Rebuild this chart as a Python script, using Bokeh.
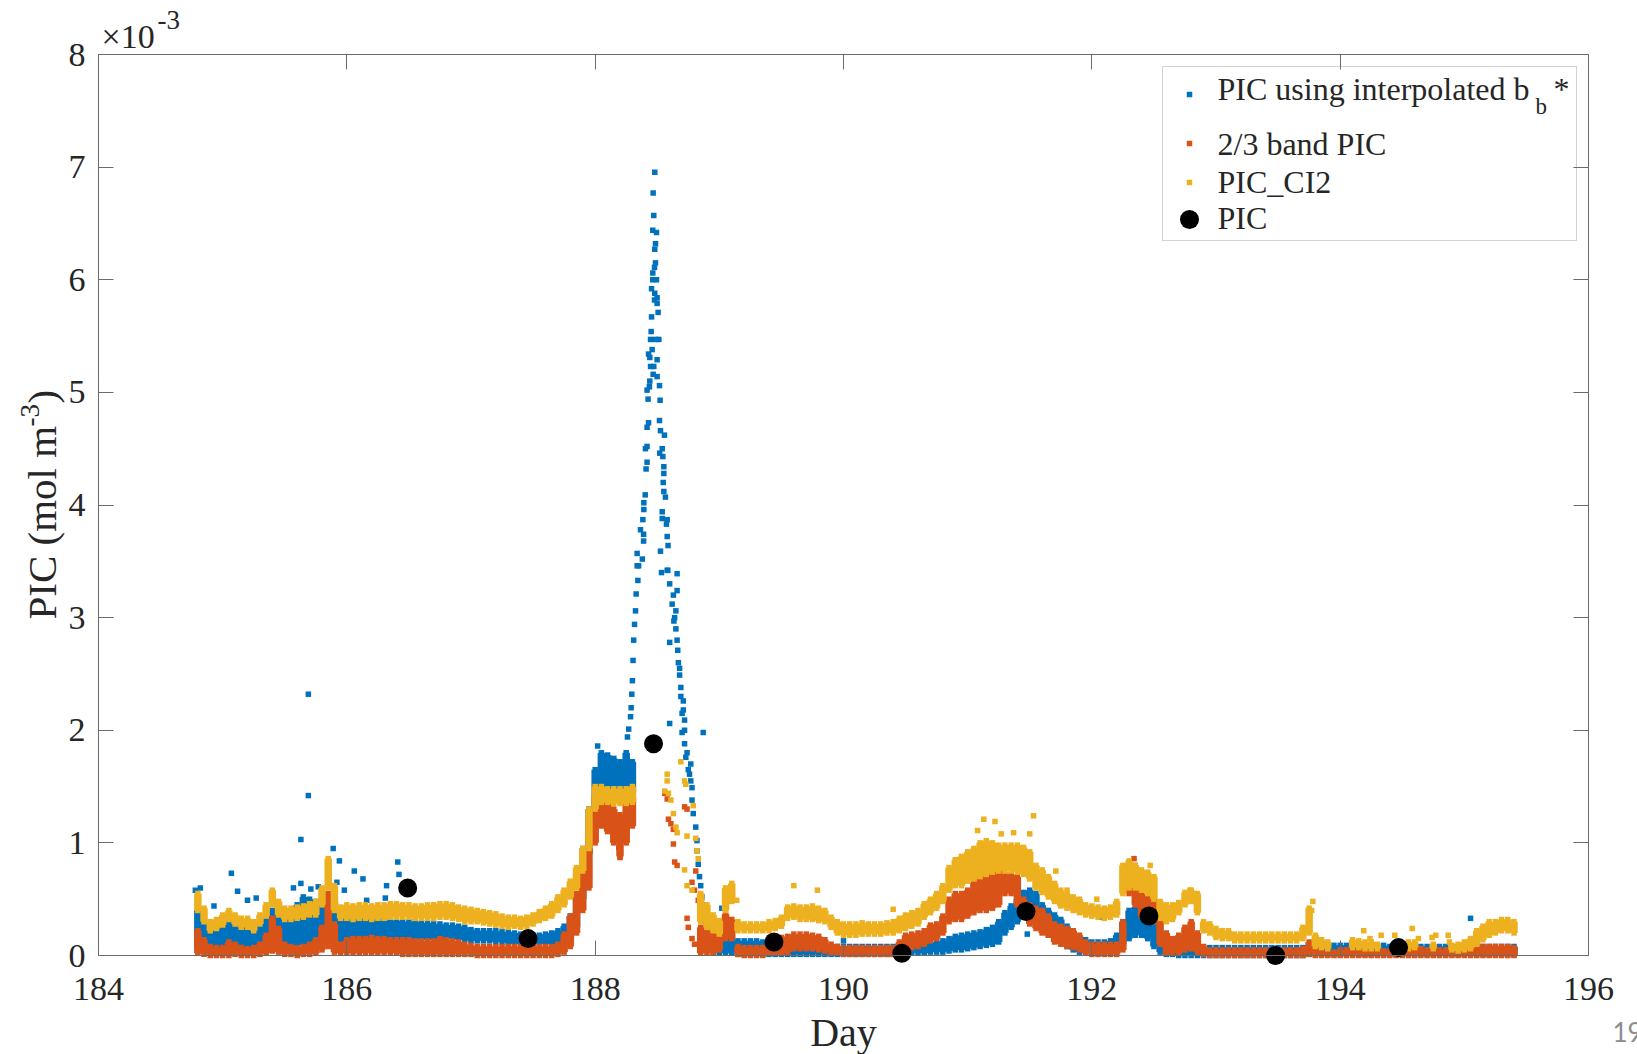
import math

from bokeh.plotting import figure
from bokeh.models import (ColumnDataSource, Range1d, LinearAxis, FixedTicker,
                          Label, BoxAnnotation)
from bokeh.embed import file_html
from bokeh.resources import INLINE

N = None  # no sample in that window

# ---------------------------------------------------------------------------
# Data.  Values are in units of 1e-3 mol m^-3 (axis multiplier x10^-3).
# Continuous records are summarised on a 0.05-day grid as the lower / upper
# edge of the point cloud in each window; isolated points are listed apart.
# ---------------------------------------------------------------------------
day = [
    184.80, 184.85, 184.90, 184.95, 185.00, 185.05, 185.10, 185.15, 185.20, 185.25,
    185.30, 185.35, 185.40, 185.45, 185.50, 185.55, 185.60, 185.65, 185.70, 185.75,
    185.80, 185.85, 185.90, 185.95, 186.00, 186.05, 186.10, 186.15, 186.20, 186.25,
    186.30, 186.35, 186.40, 186.45, 186.50, 186.55, 186.60, 186.65, 186.70, 186.75,
    186.80, 186.85, 186.90, 186.95, 187.00, 187.05, 187.10, 187.15, 187.20, 187.25,
    187.30, 187.35, 187.40, 187.45, 187.50, 187.55, 187.60, 187.65, 187.70, 187.75,
    187.80, 187.85, 187.90, 187.95, 188.00, 188.05, 188.10, 188.15, 188.20, 188.25,
    188.30, 188.35, 188.40, 188.45, 188.50, 188.55, 188.60, 188.65, 188.70, 188.75,
    188.80, 188.85, 188.90, 188.95, 189.00, 189.05, 189.10, 189.15, 189.20, 189.25,
    189.30, 189.35, 189.40, 189.45, 189.50, 189.55, 189.60, 189.65, 189.70, 189.75,
    189.80, 189.85, 189.90, 189.95, 190.00, 190.05, 190.10, 190.15, 190.20, 190.25,
    190.30, 190.35, 190.40, 190.45, 190.50, 190.55, 190.60, 190.65, 190.70, 190.75,
    190.80, 190.85, 190.90, 190.95, 191.00, 191.05, 191.10, 191.15, 191.20, 191.25,
    191.30, 191.35, 191.40, 191.45, 191.50, 191.55, 191.60, 191.65, 191.70, 191.75,
    191.80, 191.85, 191.90, 191.95, 192.00, 192.05, 192.10, 192.15, 192.20, 192.25,
    192.30, 192.35, 192.40, 192.45, 192.50, 192.55, 192.60, 192.65, 192.70, 192.75,
    192.80, 192.85, 192.90, 192.95, 193.00, 193.05, 193.10, 193.15, 193.20, 193.25,
    193.30, 193.35, 193.40, 193.45, 193.50, 193.55, 193.60, 193.65, 193.70, 193.75,
    193.80, 193.85, 193.90, 193.95, 194.00, 194.05, 194.10, 194.15, 194.20, 194.25,
    194.30, 194.35, 194.40, 194.45, 194.50, 194.55, 194.60, 194.65, 194.70, 194.75,
    194.80, 194.85, 194.90, 194.95, 195.00, 195.05, 195.10, 195.15, 195.20, 195.25,
    195.30, 195.35, 195.40,
]

# PIC using interpolated bb*
interp_lo = [
    0.07, 0.05, 0.04, 0.04, 0.05, 0.05, 0.05, 0.06, 0.06, 0.06,
    0.07, 0.07, 0.08, 0.08, 0.08, 0.08, 0.09, 0.10, 0.10, 0.10,
    0.12, 0.12, 0.12, 0.12, 0.13, 0.13, 0.14, 0.14, 0.14, 0.14,
    0.14, 0.14, 0.14, 0.14, 0.14, 0.14, 0.14, 0.14, 0.14, 0.15,
    0.15, 0.15, 0.14, 0.14, 0.13, 0.13, 0.13, 0.13, 0.12, 0.12,
    0.11, 0.10, 0.10, 0.10, 0.10, 0.10, 0.10, 0.10, 0.10, 0.12,
    0.15, 0.25, 0.50, 0.90, 1.30, 1.45, 1.45, 1.45, 1.40, 1.45,
    1.45, N, N, N, N, N, N, N, N, N,
    N, N, 0.06, 0.03, 0.02, 0.02, 0.02, 0.01, 0.01, 0.01,
    0.01, 0.01, 0.01, 0.01, 0.01, 0.01, 0.01, 0.01, 0.01, 0.01,
    0.01, 0.01, 0.01, 0.01, 0.01, 0.01, 0.01, 0.01, 0.01, 0.01,
    0.01, 0.01, 0.01, 0.02, 0.02, 0.02, 0.02, 0.02, 0.03, 0.03,
    0.03, 0.04, 0.05, 0.05, 0.06, 0.07, 0.08, 0.09, 0.10, 0.12,
    0.20, 0.25, 0.30, 0.35, 0.35, 0.30, 0.22, 0.18, 0.15, 0.12,
    0.08, 0.05, 0.03, 0.02, 0.02, 0.02, 0.02, 0.02, 0.04, 0.10,
    0.15, 0.18, 0.18, 0.15, 0.08, 0.03, 0.01, 0.01, 0.00, 0.00,
    0.00, 0.00, 0.00, 0.00, 0.00, 0.00, 0.00, 0.00, 0.00, 0.00,
    0.00, 0.00, 0.00, 0.00, 0.00, 0.00, 0.00, 0.00, 0.00, 0.01,
    0.01, 0.01, 0.01, 0.01, 0.01, 0.01, 0.01, 0.01, 0.01, 0.01,
    0.01, 0.01, 0.01, 0.01, 0.01, 0.01, 0.01, 0.01, 0.01, 0.01,
    0.01, 0.01, 0.01, 0.01, 0.01, 0.01, 0.01, 0.01, 0.01, 0.01,
    0.01, 0.01, 0.01,
]
interp_hi = [
    0.40, 0.28, 0.25, 0.26, 0.27, 0.30, 0.30, 0.28, 0.27, 0.26,
    0.28, 0.32, 0.40, 0.38, 0.33, 0.38, 0.45, 0.52, 0.50, 0.48,
    0.50, 0.55, 0.48, 0.42, 0.38, 0.35, 0.33, 0.32, 0.32, 0.32,
    0.31, 0.31, 0.31, 0.30, 0.30, 0.30, 0.29, 0.29, 0.28, 0.28,
    0.27, 0.27, 0.26, 0.25, 0.23, 0.22, 0.22, 0.22, 0.22, 0.21,
    0.21, 0.20, 0.19, 0.18, 0.18, 0.18, 0.19, 0.20, 0.22, 0.26,
    0.35, 0.50, 0.95, 1.30, 1.65, 1.80, 1.78, 1.75, 1.72, 1.80,
    1.72, N, N, N, N, N, N, N, N, N,
    N, N, 0.32, 0.25, 0.22, 0.18, 0.15, 0.13, 0.13, 0.13,
    0.13, 0.12, 0.08, 0.08, 0.08, 0.08, 0.08, 0.08, 0.08, 0.08,
    0.08, 0.08, 0.08, 0.08, 0.08, 0.08, 0.08, 0.08, 0.08, 0.08,
    0.08, 0.08, 0.08, 0.08, 0.08, 0.09, 0.10, 0.10, 0.11, 0.12,
    0.13, 0.15, 0.17, 0.18, 0.19, 0.20, 0.21, 0.23, 0.25, 0.30,
    0.38, 0.44, 0.50, 0.56, 0.58, 0.55, 0.45, 0.40, 0.36, 0.32,
    0.26, 0.20, 0.16, 0.14, 0.12, 0.12, 0.12, 0.13, 0.18, 0.30,
    0.40, 0.43, 0.42, 0.38, 0.30, 0.20, 0.14, 0.12, 0.12, 0.12,
    0.12, 0.10, 0.07, 0.07, 0.07, 0.07, 0.07, 0.07, 0.07, 0.07,
    0.07, 0.07, 0.07, 0.07, 0.07, 0.07, 0.07, 0.07, 0.07, 0.09,
    0.09, 0.09, 0.09, 0.09, 0.09, 0.09, 0.09, 0.09, 0.09, 0.09,
    0.09, 0.09, 0.08, 0.08, 0.08, 0.08, 0.08, 0.08, 0.08, 0.08,
    0.08, 0.08, 0.08, 0.08, 0.08, 0.08, 0.08, 0.08, 0.08, 0.08,
    0.08, 0.08, 0.08,
]
interp_pt_day = [
    184.78, 184.82, 184.93, 185.07, 185.12, 185.20, 185.27, 185.57, 185.63, 185.63,
    185.69, 185.69, 185.71, 185.77, 185.89, 185.92, 185.94, 185.98, 186.06, 186.13,
    186.16, 186.31, 186.32, 186.41, 186.42,
    188.02, 188.26, 188.27, 188.285, 188.29, 188.295, 188.30, 188.305, 188.31, 188.317,
    188.325, 188.33, 188.344, 188.35,
    188.338, 188.38, 188.338, 188.39, 188.39, 188.365, 188.384, 188.392, 188.392, 188.403,
    188.41, 188.418, 188.405, 188.418, 188.418, 188.43, 188.426, 188.418, 188.437, 188.44,
    188.446, 188.472, 188.44, 188.43, 188.459, 188.446, 188.486, 188.513, 188.451, 188.454,
    188.507, 188.499, 188.478, 188.499, 188.48, 188.454, 188.464, 188.494, 188.464, 188.478,
    188.486, 188.48, 188.486, 188.464, 188.494, 188.472, 188.467, 188.48,
    188.467, 188.499, 188.499, 188.518, 188.523, 188.518, 188.526, 188.558, 188.54, 188.52,
    188.545, 188.553, 188.553, 188.548, 188.553, 188.566, 188.54, 188.54, 188.58, 188.574,
    188.58, 188.587, 188.526, 188.58,
    188.534, 188.585, 188.66, 188.60, 188.66, 188.62, 188.65, 188.634, 188.65, 188.60,
    188.665, 188.67, 188.68, 188.69, 188.71, 188.71, 188.72, 188.70, 188.60, 188.87,
    188.72, 188.73, 188.77, 188.76, 188.78, 188.78, 188.79, 188.81, 188.82, 188.82,
    188.83, 188.84, 188.85, 188.86, 188.87, 188.88, 188.89,
    188.63, 188.64, 188.66, 188.68, 188.69, 188.70, 188.72, 188.74, 188.75, 188.77,
    189.02, 190.00, 191.48, 192.07, 195.05,
]
interp_pt_val = [
    0.58, 0.60, 0.44, 0.73, 0.57, 0.49, 0.51, 0.60, 1.03, 0.64,
    2.32, 1.42, 0.59, 0.61, 0.95, 0.65, 0.84, 0.58, 0.75, 0.68,
    0.49, 0.51, 0.62, 0.83, 0.72,
    1.86, 1.94, 2.01, 2.12, 2.20, 2.32, 2.44, 2.62, 2.80, 2.94,
    3.06, 3.21, 3.33, 3.46,
    3.46, 3.52, 3.57, 3.68, 3.74, 3.78, 3.87, 3.96, 4.02, 4.09,
    4.32, 4.38, 4.50, 4.52, 4.69, 4.73, 4.94, 5.02, 5.05, 5.10,
    5.23, 5.23, 5.31, 5.34, 5.38, 5.47, 5.47, 5.47, 5.54, 5.67,
    5.71, 5.79, 5.82, 5.84, 5.88, 5.92, 6.00, 6.00, 6.06, 6.11,
    6.15, 6.27, 6.32, 6.44, 6.42, 6.57, 6.77, 6.955,
    5.16, 5.14, 5.29, 5.06, 4.93, 4.75, 4.66, 4.62, 4.50, 4.46,
    4.43, 4.34, 4.28, 4.20, 4.12, 4.07, 3.94, 3.88, 3.87, 3.83,
    3.72, 3.64, 3.59, 3.42,
    3.40, 3.42, 3.39, 3.30, 3.24, 3.12, 3.06, 2.97, 2.90, 2.78,
    2.71, 2.60, 2.49, 2.38, 2.26, 2.18, 2.09, 1.98, 2.06, 1.98,
    1.88, 1.76, 1.70, 1.61, 1.49, 1.38, 1.26, 1.14, 1.02, 0.93,
    0.81, 0.70, 0.62, 0.52, 0.45, 0.36, 0.30,
    3.20, 3.00, 2.80, 2.55, 2.30, 2.15, 2.00, 1.80, 1.65, 1.55,
    0.42, 0.13, 0.19, 0.34, 0.33,
]

# 2/3 band PIC
band_lo = [
    0.02, 0.01, 0.00, 0.00, 0.00, 0.00, 0.01, 0.00, 0.00, 0.00,
    0.01, 0.02, 0.04, 0.03, 0.01, 0.01, 0.00, 0.01, 0.01, 0.02,
    0.05, 0.08, 0.03, 0.02, 0.02, 0.02, 0.02, 0.02, 0.02, 0.02,
    0.02, 0.02, 0.02, 0.01, 0.01, 0.01, 0.01, 0.01, 0.01, 0.01,
    0.01, 0.01, 0.01, 0.01, 0.01, 0.00, 0.00, 0.00, 0.00, 0.00,
    0.00, 0.00, 0.00, 0.00, 0.00, 0.00, 0.00, 0.00, 0.01, 0.03,
    0.08, 0.20, 0.40, 0.60, 1.00, 1.15, 1.10, 1.00, 0.88, 1.00,
    1.15, N, N, N, N, N, N, N, N, N,
    N, 0.02, 0.02, 0.02, 0.05, 0.15, 0.15, 0.01, 0.00, 0.00,
    0.00, 0.00, 0.02, 0.02, 0.02, 0.03, 0.06, 0.06, 0.06, 0.06,
    0.05, 0.04, 0.03, 0.02, 0.01, 0.01, 0.01, 0.01, 0.01, 0.01,
    0.01, 0.01, 0.01, 0.03, 0.06, 0.07, 0.08, 0.10, 0.13, 0.15,
    0.20, 0.30, 0.32, 0.32, 0.35, 0.38, 0.40, 0.40, 0.42, 0.45,
    0.55, 0.55, 0.45, 0.35, 0.28, 0.24, 0.20, 0.18, 0.12, 0.10,
    0.08, 0.07, 0.05, 0.02, 0.01, 0.01, 0.01, 0.01, 0.01, 0.05,
    0.55, 0.45, 0.35, 0.32, 0.30, 0.10, 0.02, 0.02, 0.02, 0.05,
    0.06, 0.03, 0.01, 0.00, 0.00, 0.00, 0.00, 0.00, 0.00, 0.00,
    0.00, 0.00, 0.00, 0.00, 0.00, 0.00, 0.00, 0.00, 0.00, 0.01,
    0.00, 0.00, 0.00, 0.00, 0.00, 0.00, 0.00, 0.00, 0.00, 0.00,
    0.00, 0.00, 0.00, 0.00, 0.00, 0.00, 0.00, 0.00, 0.00, 0.00,
    0.00, 0.00, 0.00, 0.00, 0.00, 0.00, 0.00, 0.00, 0.00, 0.00,
    0.00, 0.00, 0.00,
]
band_hi = [
    0.22, 0.14, 0.08, 0.07, 0.07, 0.12, 0.10, 0.07, 0.06, 0.07,
    0.10, 0.18, 0.33, 0.24, 0.10, 0.08, 0.07, 0.08, 0.10, 0.14,
    0.25, 0.55, 0.28, 0.10, 0.14, 0.15, 0.15, 0.15, 0.16, 0.15,
    0.15, 0.14, 0.14, 0.14, 0.14, 0.13, 0.13, 0.13, 0.13, 0.15,
    0.14, 0.13, 0.12, 0.10, 0.09, 0.08, 0.08, 0.08, 0.08, 0.08,
    0.08, 0.08, 0.08, 0.08, 0.08, 0.08, 0.08, 0.08, 0.10, 0.19,
    0.35, 0.55, 0.75, 1.20, 1.42, 1.42, 1.35, 1.30, 1.25, 1.35,
    1.40, N, N, N, N, N, N, N, N, N,
    N, 0.25, 0.22, 0.20, 0.30, 0.37, 0.32, 0.08, 0.07, 0.07,
    0.07, 0.07, 0.14, 0.15, 0.16, 0.17, 0.19, 0.19, 0.19, 0.18,
    0.17, 0.14, 0.10, 0.08, 0.07, 0.07, 0.07, 0.07, 0.07, 0.07,
    0.07, 0.07, 0.07, 0.12, 0.18, 0.19, 0.20, 0.22, 0.27, 0.28,
    0.35, 0.50, 0.55, 0.55, 0.58, 0.65, 0.72, 0.75, 0.75, 0.75,
    0.72, 0.72, 0.70, 0.50, 0.45, 0.42, 0.40, 0.35, 0.28, 0.26,
    0.24, 0.22, 0.18, 0.12, 0.10, 0.10, 0.10, 0.10, 0.10, 0.30,
    0.82, 0.80, 0.55, 0.52, 0.50, 0.40, 0.20, 0.15, 0.18, 0.25,
    0.30, 0.20, 0.08, 0.05, 0.05, 0.05, 0.05, 0.05, 0.05, 0.05,
    0.05, 0.05, 0.05, 0.05, 0.05, 0.05, 0.05, 0.05, 0.06, 0.12,
    0.06, 0.04, 0.03, 0.03, 0.05, 0.05, 0.05, 0.05, 0.04, 0.04,
    0.04, 0.04, 0.04, 0.04, 0.05, 0.07, 0.09, 0.06, 0.05, 0.05,
    0.05, 0.05, 0.05, 0.06, 0.08, 0.08, 0.08, 0.08, 0.08, 0.08,
    0.08, 0.08, 0.07,
]
band_pt_day = [
    188.19, 188.20, 188.56, 188.58, 188.59, 188.61, 188.63, 188.63, 188.64, 188.66,
    188.72, 188.74, 188.74, 188.75, 188.78, 188.80, 188.81, 188.83, 188.78, 188.80,
    192.34,
]
band_pt_val = [
    0.96, 0.87, 1.44, 1.39, 1.21, 1.17, 1.12, 0.99, 0.83, 0.80,
    1.32, 1.30, 0.33, 0.25, 0.65, 0.58, 0.75, 0.49, 0.15, 0.10,
    0.86,
]

# PIC_CI2
ci2_lo = [
    0.40, 0.30, 0.22, 0.24, 0.27, 0.32, 0.28, 0.25, 0.25, 0.22,
    0.28, 0.35, 0.45, 0.36, 0.32, 0.32, 0.33, 0.34, 0.36, 0.36,
    0.45, 0.60, 0.40, 0.33, 0.33, 0.32, 0.33, 0.33, 0.32, 0.33,
    0.33, 0.34, 0.34, 0.34, 0.34, 0.33, 0.33, 0.33, 0.33, 0.34,
    0.34, 0.33, 0.32, 0.30, 0.30, 0.30, 0.29, 0.28, 0.27, 0.26,
    0.25, 0.26, 0.25, 0.26, 0.28, 0.31, 0.33, 0.35, 0.40, 0.45,
    0.52, 0.60, 0.75, 0.95, 1.30, 1.36, 1.36, 1.35, 1.35, 1.35,
    1.36, N, N, N, N, N, N, N, N, N,
    N, 0.30, 0.25, 0.22, 0.19, 0.40, 0.48, 0.22, 0.22, 0.22,
    0.22, 0.22, 0.22, 0.24, 0.26, 0.33, 0.34, 0.32, 0.32, 0.32,
    0.31, 0.30, 0.25, 0.20, 0.18, 0.18, 0.18, 0.19, 0.19, 0.19,
    0.19, 0.20, 0.20, 0.22, 0.24, 0.26, 0.28, 0.34, 0.38, 0.42,
    0.48, 0.58, 0.62, 0.62, 0.66, 0.68, 0.70, 0.72, 0.74, 0.75,
    0.75, 0.75, 0.74, 0.72, 0.68, 0.60, 0.56, 0.52, 0.48, 0.44,
    0.42, 0.40, 0.38, 0.36, 0.35, 0.34, 0.33, 0.34, 0.36, 0.55,
    0.60, 0.60, 0.58, 0.55, 0.50, 0.33, 0.30, 0.32, 0.38, 0.45,
    0.48, 0.38, 0.22, 0.20, 0.16, 0.15, 0.15, 0.13, 0.13, 0.13,
    0.13, 0.13, 0.13, 0.13, 0.13, 0.13, 0.13, 0.13, 0.15, 0.20,
    0.08, 0.07, 0.06, N, N, N, 0.07, 0.07, 0.06, 0.06,
    0.06, N, N, 0.05, N, 0.06, 0.07, N, N, 0.06,
    N, N, 0.05, 0.04, 0.05, 0.06, 0.10, 0.14, 0.18, 0.20,
    0.22, 0.22, 0.20,
]
ci2_hi = [
    0.55, 0.42, 0.30, 0.32, 0.36, 0.40, 0.36, 0.33, 0.33, 0.30,
    0.36, 0.45, 0.58, 0.48, 0.42, 0.42, 0.43, 0.44, 0.46, 0.48,
    0.60, 0.86, 0.62, 0.43, 0.45, 0.44, 0.45, 0.45, 0.44, 0.45,
    0.45, 0.46, 0.46, 0.45, 0.45, 0.44, 0.44, 0.45, 0.45, 0.46,
    0.46, 0.45, 0.43, 0.42, 0.41, 0.40, 0.39, 0.38, 0.37, 0.35,
    0.34, 0.34, 0.33, 0.34, 0.36, 0.39, 0.42, 0.46, 0.52, 0.58,
    0.66, 0.78, 0.95, 1.30, 1.50, 1.50, 1.48, 1.48, 1.48, 1.48,
    1.50, N, N, N, N, N, N, N, N, N,
    N, 0.55, 0.45, 0.36, 0.31, 0.60, 0.64, 0.30, 0.28, 0.28,
    0.28, 0.28, 0.30, 0.31, 0.34, 0.43, 0.44, 0.43, 0.43, 0.44,
    0.42, 0.40, 0.34, 0.30, 0.28, 0.28, 0.28, 0.29, 0.28, 0.28,
    0.28, 0.29, 0.30, 0.33, 0.36, 0.38, 0.40, 0.46, 0.50, 0.55,
    0.62, 0.78, 0.85, 0.88, 0.92, 0.95, 1.00, 1.02, 1.00, 0.98,
    0.98, 0.98, 0.98, 0.96, 0.92, 0.80, 0.76, 0.70, 0.64, 0.58,
    0.55, 0.52, 0.50, 0.45, 0.44, 0.43, 0.42, 0.43, 0.48, 0.80,
    0.84, 0.80, 0.76, 0.74, 0.70, 0.48, 0.45, 0.45, 0.47, 0.56,
    0.58, 0.55, 0.30, 0.28, 0.24, 0.22, 0.22, 0.19, 0.19, 0.19,
    0.19, 0.19, 0.19, 0.19, 0.19, 0.19, 0.19, 0.19, 0.25, 0.42,
    0.18, 0.14, 0.12, N, N, N, 0.14, 0.13, 0.12, 0.12,
    0.10, N, N, 0.09, N, 0.12, 0.12, N, N, 0.10,
    N, N, 0.09, 0.10, 0.12, 0.15, 0.22, 0.26, 0.30, 0.30,
    0.32, 0.32, 0.30,
]
ci2_pt_day = [
    188.58, 188.58, 188.56, 188.59, 188.61, 188.69, 188.72, 188.73, 188.63, 188.65,
    188.66, 188.74, 188.81, 188.82, 188.83, 188.79, 188.72, 188.74, 188.78, 188.85,
    188.90, 188.91, 189.08, 189.10, 189.14, 189.26, 189.60, 189.79, 190.40, 191.08,
    191.13, 191.22, 191.27, 191.37, 191.50, 191.53, 191.71, 191.80, 192.04, 192.47,
    192.79, 193.77, 193.78, 194.19, 194.24, 194.33, 194.44, 194.58, 194.63, 194.74,
    194.77, 194.87, 194.88,
]
ci2_pt_val = [
    1.61, 1.55, 1.46, 1.44, 1.38, 1.72, 1.55, 1.52, 1.26, 1.14,
    1.09, 1.06, 1.04, 0.93, 0.86, 1.33, 0.76, 0.62, 0.58, 0.50,
    0.40, 0.36, 0.59, 0.56, 0.49, 0.25, 0.62, 0.58, 0.41, 1.11,
    1.21, 1.19, 1.08, 1.09, 1.08, 1.24, 0.75, 0.58, 0.50, 0.80,
    0.58, 0.40, 0.48, 0.22, 0.15, 0.18, 0.18, 0.24, 0.15, 0.16,
    0.18, 0.18, 0.12,
]

# Discrete PIC samples
pic_day = [186.49, 187.46, 188.47, 189.44, 190.47, 191.47, 192.46, 193.48, 194.47]
pic_val = [0.60, 0.15, 1.88, 0.12, 0.02, 0.39, 0.35, 0.00, 0.07]

x_ticks = [184, 186, 188, 190, 192, 194, 196]
y_ticks = [0, 1, 2, 3, 4, 5, 6, 7, 8]

for arr in (interp_lo, interp_hi, band_lo, band_hi, ci2_lo, ci2_hi):
    assert len(arr) == len(day), len(arr)

# ---------------------------------------------------------------------------
# Layout: the drawing frame fills the whole canvas and the four axes are
# pinned at the box edges, so titles and the legend can sit anywhere.
# ---------------------------------------------------------------------------
BLUE, ORANGE, YELLOW = "#0072BD", "#D95319", "#EDB120"
SERIF = "Liberation Serif"
TXT = "#262626"
AXIS = "#6a6a6a"
W, H = 1637, 1054
LEFT, RIGHT, TOP, BOTTOM = 98, 1588, 54, 955   # axes box on the canvas
X0, X1, Y0, Y1 = 184, 196, 0, 8
PX_X = (RIGHT - LEFT) / (X1 - X0)
PX_Y = (BOTTOM - TOP) / (Y1 - Y0)

p = figure(width=W, height=H,
           x_range=Range1d(X0 - LEFT / PX_X, X1 + (W - RIGHT) / PX_X),
           y_range=Range1d(Y0 - (H - BOTTOM) / PX_Y, Y1 + TOP / PX_Y),
           x_axis_location=None, y_axis_location=None,
           output_backend="svg", toolbar_location=None,
           min_border=0, min_border_left=0, min_border_right=0,
           min_border_top=0, min_border_bottom=0,
           background_fill_color="white", border_fill_color="white")
p.grid.visible = False
p.outline_line_color = None

bottom_ax = LinearAxis(fixed_location=Y0, bounds=(X0, X1))
top_ax = LinearAxis(fixed_location=Y1, bounds=(X0, X1))
left_ax = LinearAxis(fixed_location=X0, bounds=(Y0, Y1))
right_ax = LinearAxis(fixed_location=X1, bounds=(Y0, Y1))
p.add_layout(bottom_ax, "below")
p.add_layout(top_ax, "above")
p.add_layout(left_ax, "left")
p.add_layout(right_ax, "right")

for ax in (bottom_ax, top_ax):
    ax.ticker = FixedTicker(ticks=x_ticks)
for ax in (left_ax, right_ax):
    ax.ticker = FixedTicker(ticks=y_ticks)
for ax in (bottom_ax, top_ax, left_ax, right_ax):
    ax.axis_line_color = AXIS
    ax.axis_line_width = 1
    ax.major_tick_line_color = AXIS
    ax.major_tick_line_width = 1
    ax.major_tick_in = 15
    ax.major_tick_out = 0
    ax.minor_tick_line_color = None
    ax.major_label_text_font = SERIF
    ax.major_label_text_font_size = "34px"
    ax.major_label_text_color = TXT
for ax, ticks in ((top_ax, x_ticks), (right_ax, y_ticks)):
    ax.major_label_overrides = {t: "" for t in ticks}
    ax.major_label_text_font_size = "0px"
    ax.major_label_standoff = 0
bottom_ax.major_label_standoff = 22
left_ax.major_label_standoff = 13


def to_data(px, py):
    """Canvas pixel position -> data coordinates (for text and legend layout)."""
    return X0 + (px - LEFT) / PX_X, Y0 + (BOTTOM - py) / PX_Y


def add_text(px, py, text, size, angle=0.0, font=SERIF, color=TXT, align="left"):
    """Place text by the canvas position of its baseline start."""
    lift = 0.3375 * size          # baseline -> middle of the em box
    if angle:
        px -= lift
    else:
        py -= lift
    x, y = to_data(px, py)
    p.add_layout(Label(x=x, y=y, text=text, angle=angle, text_font=font,
                       text_font_size=f"{size}px", text_color=color,
                       text_align=align, text_baseline="middle"))


def band_source(lo, hi):
    d, l, h = [], [], []
    for t, a, b in zip(day, lo, hi):
        if a is None or b is None:
            continue
        d.append(t)
        l.append(a)
        h.append(b)
    return ColumnDataSource(dict(day=d, lo=l, hi=h))


MARK = 5.5


def draw_series(lo, hi, pt_day, pt_val, color):
    src = band_source(lo, hi)
    p.segment(x0="day", y0="lo", x1="day", y1="hi", source=src,
              line_color=color, line_width=7.5, line_cap="butt")
    for col in ("lo", "hi"):
        p.scatter(x="day", y=col, source=src, marker="square", size=MARK,
                  fill_color=color, line_color=None)
    p.scatter(x=pt_day, y=pt_val, marker="square", size=MARK,
              fill_color=color, line_color=None)


draw_series(interp_lo, interp_hi, interp_pt_day, interp_pt_val, BLUE)
draw_series(band_lo, band_hi, band_pt_day, band_pt_val, ORANGE)
draw_series(ci2_lo, ci2_hi, ci2_pt_day, ci2_pt_val, YELLOW)
p.scatter(x=pic_day, y=pic_val, marker="circle", size=19,
          fill_color="black", line_color=None)

# Axis multiplier and axis titles
add_text(101, 47, "\u00d710", 34)
add_text(157, 29, "-3", 27)
add_text(843, 1045, "Day", 40, align="center")
add_text(55, 619, "PIC (mol m", 41, angle=math.pi / 2)
add_text(39, 426, "-3", 27, angle=math.pi / 2)
add_text(55, 403, ")", 41, angle=math.pi / 2)

# Legend
bl, bt = to_data(1162, 66)
br, bb = to_data(1576, 240)
p.add_layout(BoxAnnotation(left=bl, right=br, top=bt, bottom=bb,
                           fill_color="white", fill_alpha=1.0,
                           line_color=AXIS, line_width=1, level="underlay"))
key_rows = [(94, BLUE, "square", MARK), (143, ORANGE, "square", MARK),
            (182, YELLOW, "square", MARK), (219, "black", "circle", 19)]
for py, color, marker, size in key_rows:
    kx, ky = to_data(1189, py)
    p.scatter(x=[kx], y=[ky], marker=marker, size=size,
              fill_color=color, line_color=None)
add_text(1217, 99, "PIC using interpolated b", 32)
add_text(1535, 114, "b", 23)
add_text(1553, 99, "*", 32)
add_text(1217, 154, "2/3 band PIC", 32)
add_text(1217, 192, "PIC_CI2", 32)
add_text(1217, 228, "PIC", 32)

# Slide page number at the lower right corner
add_text(1612, 1040, "19", 26, font="Lato", color="#8c8c8c")

open("out.html", "w").write(file_html(p, INLINE))
